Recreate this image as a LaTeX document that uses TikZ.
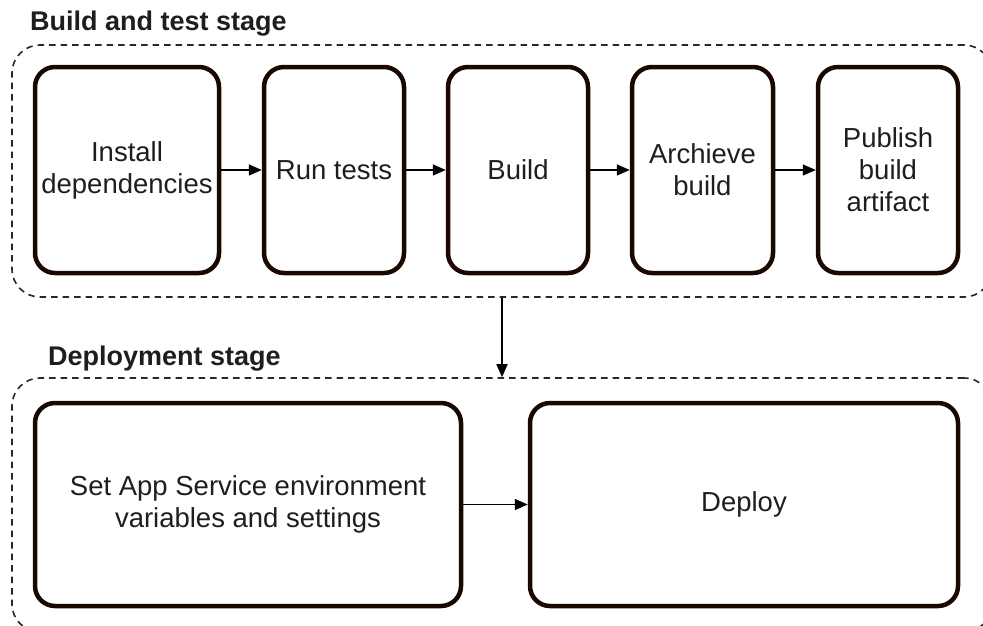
\documentclass[tikz,border=0pt]{standalone}
\usepackage{fontspec}
\setmainfont{Liberation Sans}
\usetikzlibrary{arrows.meta}
\definecolor{boxc}{RGB}{26,8,0}
\definecolor{txt}{RGB}{30,30,30}
\definecolor{dashc}{RGB}{40,40,40}
\begin{document}
\begin{tikzpicture}[x=1pt,y=-1pt,
  stepbox/.style={draw=boxc, line width=4.5pt, rounded corners=20pt, align=center, text=txt,
    font=\fontsize{27.5}{32}\selectfont, inner sep=0pt},
  stagebox/.style={draw=dashc, line width=1.6pt, dash pattern=on 6.5pt off 5pt, rounded corners=28pt},
  flow/.style={line width=1.5pt, draw=black, -{Triangle[length=13pt,width=11pt]}},
  title/.style={font=\bfseries\fontsize{27}{32}\selectfont, text=txt, anchor=base west, inner sep=0pt}]
\useasboundingbox (0,0) rectangle (983,625);
% stages
\node[stagebox, minimum width=980pt, minimum height=252pt] (stage1) at (502,171) {};
\node[stagebox, minimum width=980pt, minimum height=254pt] (stage2) at (502,505) {};
\node[title] (t1) at (30,30) {Build and test stage};
\node[title] (t2) at (48,365) {Deployment stage};
% build steps
\node[stepbox, minimum width=184pt, minimum height=206pt] (install) at (127,170) {Install\\dependencies};
\node[stepbox, minimum width=140pt, minimum height=206pt] (runtests) at (334,170) {Run tests};
\node[stepbox, minimum width=140pt, minimum height=206pt] (build) at (518,170) {Build};
\node[stepbox, minimum width=141pt, minimum height=206pt] (archive) at (702.5,170) {Archieve\\build};
\node[stepbox, minimum width=140pt, minimum height=206pt] (publish) at (888,170) {Publish\\build\\artifact};
% deploy steps
\node[stepbox, minimum width=426pt, minimum height=203pt] (setapp) at (248,504.5) {Set App Service environment\\variables and settings};
\node[stepbox, minimum width=428pt, minimum height=203pt] (deploy) at (744,504.5) {Deploy};
% connectors
\draw[flow] (install) -- (runtests);
\draw[flow] (runtests) -- (build);
\draw[flow] (build) -- (archive);
\draw[flow] (archive) -- (publish);
\draw[flow] (setapp) -- (deploy);
\draw[flow] (stage1.south) -- (stage2.north);
\end{tikzpicture}
\end{document}
